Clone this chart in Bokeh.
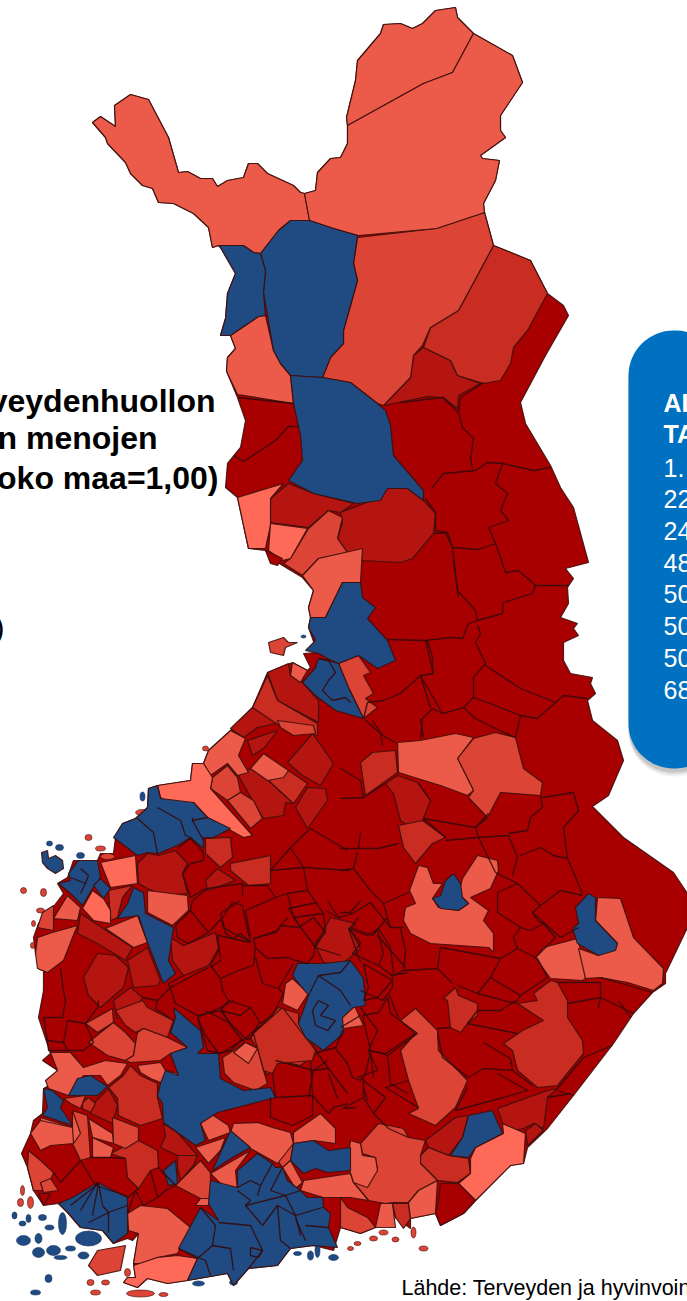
from bokeh.plotting import figure
from bokeh.models import BoxAnnotation, Range1d
from bokeh.embed import file_html
from bokeh.resources import INLINE
from bokeh.core.properties import value

# Tracing of the map: municipality outlines, by colour class of the index
COL_1 = "#a80000"; COL_2 = "#b51510"; COL_3 = "#c92c20"; COL_4 = "#dc4435"; COL_5 = "#ec5b49"; COL_6 = "#ff6a58"; COL_B = "#1f4a82"

ARM = [(218,245),(212,247),(208,227),(193,213),(173,203),(158,202),(152,188),(142,185),(130,173),(125,162),(107,143),(105,137),(92,122),(100,116),(115,126),(114,105),(130,94),(148,99),(168,137),(178,172),(187,171),(200,178),(212,178),(217,186),(227,180),(243,177),(248,163),(257,163),(267,173),(293,185),(300,192),(304,193)]
UTS = [(347,125),(346,117),(355,80),(357,60),(363,53),(380,33),(383,24),(400,23),(412,28),(422,23),(435,10),(455,7),(457,17),(473,33)]
INARI_E = [(512,55),(522,82),(500,115),(500,130),(505,137),(480,155),(482,158),(499,160),(495,180),(483,203),(484,212)]
COAST_E1 = [(493,245),(530,260),(547,293),(563,305),(568,315),(545,355),(520,402),(525,423),(550,465),(560,487),(573,507),(588,562),(565,568),(573,578),(567,587),(568,603),(560,617),(577,623),(573,628),(578,635),(563,642),(563,660),(570,673),(592,677),(590,683),(595,693),(587,700),(592,720),(617,740),(623,760),(608,795),(592,806),(623,837),(673,872),(687,893),(687,927),(665,973),(665,983),(652,992),(633,1013),(613,1043),(573,1095),(547,1128),(527,1147),(523,1163),(510,1165),(475,1200),(463,1213),(440,1225),(435,1213),(410,1218),(410,1228),(395,1217),(388,1204),(375,1227),(360,1233),(340,1227),(333,1250),(313,1245),(290,1248),(277,1265),(248,1268),(233,1285),(227,1273),(187,1280),(167,1283),(147,1278),(137,1287),(123,1282),(127,1277),(135,1277),(133,1263),(138,1233),(132,1240),(127,1238),(113,1243),(102,1230),(80,1227),(67,1212),(58,1203),(43,1205),(33,1190),(27,1167),(21,1153),(30,1133),(33,1120),(42,1113),(43,1088),(52,1083),(57,1070),(42,1060),(50,1053),(38,1017),(43,990),(43,970),(35,953),(33,937),(38,923),(50,910),(63,893),(57,883),(67,877),(73,860),(97,860),(100,853),(113,853),(115,837),(122,823),(135,818),(147,807),(148,788),(157,785),(190,780),(192,763),(203,763),(208,750),(230,730),(252,707),(267,672),(292,662),(307,670),(310,667),(303,653),(317,652),(308,627),(310,617),(308,607),(313,590),(302,577),(282,565),(270,557),(265,550),(248,548),(237,497),(225,487),(227,463),(240,447),(245,420),(237,397),(227,373),(226,370),(227,357),(235,348),(230,335),(220,335),(225,318),(227,293),(235,273),(220,247)]
COUNTRY = ARM + [(315,190),(317,172),(330,158),(340,157),(347,143)] + UTS + INARI_E + COAST_E1

REG_C1 = [
 [(265,550),(282,558),(277,565),(270,563)],
 [(440,1183),(458,1183),(475,1200),(463,1213),(440,1225),(435,1213),(438,1200)],
 [(38,1193),(50,1193),(43,1205)],
]
REG_C2 = [
 [(288,483),(270,498),(270,522),(308,527),(328,510),(340,512),(353,503),(313,493)],
 [(340,512),(377,498),(387,488),(407,488),(423,500),(435,513),(433,533),(412,558),(400,562),(363,560),(347,552),(337,538),(342,522)],
 [(423,347),(450,360),(457,375),(480,383),(458,395),(457,408),(443,397),(427,396),(383,405),(410,377),(413,355)],
 [(267,672),(288,663),(290,675),(302,682),(318,700),(318,722),(277,700)],
 [(252,707),(280,722),(257,727),(243,737),(230,728)],
 [(287,762),(312,733),(333,763),(320,785),(302,775)],
 [(238,775),(250,768),(268,780),(293,803),(285,802),(283,815),(263,818),(252,800)],
 [(295,807),(307,787),(325,788),(327,800),(307,828)],
 [(247,740),(277,730),(263,748),(252,755)],
 [(137,863),(147,853),(158,855),(175,850),(187,863),(182,873),(187,893),(163,895),(147,888),(138,883)],
 [(205,880),(217,868),(235,880),(207,890)],
 [(77,933),(80,913),(103,928),(132,947),(125,960),(97,943)],
 [(83,977),(97,953),(115,955),(128,967),(123,987),(100,1007),(88,995)],
 [(127,960),(147,947),(160,980),(157,985),(133,987)],
 [(113,1000),(130,987),(142,997),(133,1013),(117,1018)],
 [(172,960),(170,937),(183,945),(215,932),(218,948),(208,965),(183,975)],
 [(315,945),(330,917),(355,923),(350,930),(360,948),(340,965),(323,962)],
 [(385,783),(397,775),(417,782),(430,800),(422,820),(410,827),(400,820),(393,793)],
 [(93,1103),(108,1088),(117,1105),(112,1123),(90,1113)],
 [(163,1123),(177,1132),(197,1155),(177,1155),(160,1147),(165,1135)],
 [(177,1155),(197,1155),(193,1165),(180,1180),(177,1168)],
 [(497,1108),(547,1090),(557,1088),(547,1097),(543,1128),(533,1123),(523,1128),(515,1130),(502,1123)],
 [(525,1130),(535,1123),(543,1130),(527,1145)],
 [(425,1140),(455,1117),(468,1115),(462,1137),(448,1155),(428,1147)],
 [(420,1155),(428,1147),(448,1155),(468,1158),(470,1173),(457,1182),(438,1180),(420,1163)],
]
REG_C3 = [
 [(493,245),(530,260),(547,293),(527,330),(513,347),(510,363),(500,380),(483,383),(457,375),(450,360),(423,347),(430,327),(458,310)],
 [(267,675),(277,700),(317,723),(317,735),(283,728),(252,707)],
 [(268,780),(288,770),(307,783),(293,803)],
 [(205,838),(230,837),(232,857),(220,867),(205,853)],
 [(230,863),(270,855),(270,883),(248,885),(230,870)],
 [(108,890),(132,885),(122,897),(117,917),(110,920)],
 [(360,762),(372,752),(395,750),(397,772),(365,795)],
 [(398,825),(422,820),(445,837),(432,843),(415,863),(403,847)],
 [(250,1037),(278,1007),(298,1013),(298,1023),(317,1052),(300,1065),(277,1060),(267,1075),(262,1063),(257,1048)],
 [(537,1000),(533,993),(550,980),(557,982),(567,1000),(567,1017),(582,1040),(583,1053),(557,1085),(537,1087),(517,1070),(512,1050),(503,1043),(522,1030),(543,1020),(517,1003)],
 [(443,998),(455,987),(458,995),(477,1003),(477,1015),(467,1023),(460,1032),(450,1027),(447,1000)],
 [(115,1010),(142,1000),(147,1007),(173,1020),(167,1037),(143,1028),(135,1032),(125,1025)],
 [(130,1065),(140,1075),(157,1083),(157,1097),(162,1118),(140,1125),(118,1115),(117,1098),(108,1087),(123,1075)],
 [(82,1102),(88,1097),(95,1103),(90,1112),(82,1108)],
 [(110,1153),(132,1142),(138,1140),(157,1150),(158,1167),(150,1170),(138,1188),(127,1177),(125,1158)],
 [(253,1033),(282,1007),(315,1050),(312,1060),(277,1063),(272,1073),(263,1070),(257,1048)],
 [(392,1203),(408,1203),(410,1218),(403,1228),(395,1217)],
 [(420,1155),(420,1163),(437,1180),(457,1182),(470,1173),(468,1158),(448,1155),(428,1147)],
]
REG_C4 = [
 [(357,237),(436,228),(484,212),(493,245),(458,310),(430,327),(422,345),(413,355),(410,377),(383,405),(377,403),(350,382),(322,377),(330,357),(343,343),(343,330),(357,280),(353,263)],
 [(308,528),(328,510),(342,517),(337,538),(347,552),(318,558),(302,575),(283,563),(290,558)],
 [(338,663),(358,655),(370,672),(363,675),(373,693),(365,698),(377,707),(363,718),(348,687)],
 [(268,642),(283,637),(288,642),(297,642),(285,647),(283,655),(270,652)],
 [(212,777),(227,765),(237,777),(240,792),(227,800),(210,788)],
 [(227,800),(240,792),(253,800),(262,818),(250,828)],
 [(277,720),(313,725),(315,733),(293,735),(280,727)],
 [(473,738),(495,732),(515,737),(523,768),(542,782),(540,795),(500,792),(487,817),(468,797),(473,790),(457,758)],
 [(400,1020),(415,1008),(437,1030),(438,1050),(467,1080),(455,1107),(435,1125),(408,1113),(418,1108),(408,1080),(400,1050),(415,1033)],
 [(360,1143),(378,1123),(403,1128),(408,1137),(425,1140),(420,1155),(420,1163),(437,1180),(418,1190),(408,1202),(392,1202),(385,1203),(368,1200),(353,1182),(377,1170),(375,1157),(362,1153)],
 [(85,1023),(112,1008),(113,1022),(97,1032)],
 [(88,1042),(100,1032),(113,1022),(125,1032),(135,1043),(133,1055),(125,1060),(107,1055)],
 [(135,1043),(137,1032),(143,1028),(167,1037),(187,1047),(170,1053),(160,1060),(130,1062),(125,1060),(133,1055)],
 [(72,1110),(87,1115),(90,1157),(80,1160),(72,1143)],
 [(112,1117),(138,1127),(138,1140),(125,1148),(113,1143)],
 [(63,1098),(85,1095),(80,1108),(70,1103)],
 [(222,1057),(233,1050),(245,1042),(257,1048),(263,1070),(267,1083),(255,1090),(233,1082),(224,1073)],
 [(175,1185),(200,1160),(210,1172),(210,1198),(200,1198)],
 [(207,1200),(227,1207),(235,1215),(220,1220)],
 [(277,1160),(287,1147),(293,1143),(290,1160),(282,1167)],
 [(37,927),(42,912),(53,905),(53,930)],
 [(340,1197),(347,1207),(367,1217),(375,1227),(360,1233),(340,1227)],
 [(88,1265),(97,1250),(125,1245),(120,1270),(97,1275)],
 [(28,1150),(40,1160),(53,1172),(50,1180),(40,1182),(43,1190),(33,1190),(27,1167)],
 [(40,1182),(50,1178),(58,1190),(43,1192)],
]
REG_C5 = [
 [(218,245),(243,245),(253,252),(260,253),(278,230),(290,220),(309,220),(304,193)] + ARM[::-1][1:-1],
 UTS + [(452,72),(423,83)],
 [(304,193),(315,190),(317,172),(330,158),(340,157),(347,143),(347,125),(423,83),(452,72),(473,33)] + INARI_E + [(436,228),(358,235),(333,228),(309,220)],
 [(230,335),(258,316),(265,315),(273,350),(280,363),(290,375),(293,403),(237,394),(227,373),(226,370),(227,357),(235,348)],
 [(302,575),(318,558),(362,548),(360,582),(342,582),(325,617),(310,617),(308,607),(313,590)],
 [(292,662),(307,670),(300,682),(290,675)],
 [(230,730),(245,738),(238,755),(248,772),(237,775),(227,763),(210,775),(203,763),(208,750)],
 [(250,768),(263,753),(288,770),(283,777),(267,780)],
 [(105,928),(137,915),(147,942),(133,947)],
 [(147,890),(187,895),(188,910),(172,925),(147,912)],
 [(53,918),(67,895),(80,907),(77,920)],
 [(37,937),(52,932),(77,925),(72,937),(63,960),(47,972),(37,968),(35,953)],
 [(535,957),(543,947),(577,938),(585,967),(585,978),(582,980),(550,978)],
 [(397,742),(420,740),(455,733),(473,737),(457,758),(473,790),(467,795),(440,785),(398,772)],
 [(409,890),(418,865),(427,867),(433,883),(442,883),(432,898),(438,907),(458,910),(468,903),(458,893),(462,878),(477,855),(497,860),(498,870),(490,888),(470,897),(488,910),(483,920),(493,933),(493,952),(488,947),(430,943),(410,933),(403,920),(405,907),(415,903)],
 [(585,978),(578,948),(598,955),(617,943),(595,920),(597,897),(620,898),(633,937),(663,968),(662,983),(653,990),(627,982),(600,977)],
 [(50,1052),(70,1052),(83,1067),(105,1060),(127,1063),(120,1075),(107,1085),(100,1075),(83,1075),(68,1095),(48,1088),(45,1080),(57,1070)],
 [(137,1065),(160,1062),(165,1070),(178,1073),(168,1085),(150,1078),(140,1072)],
 [(40,1117),(72,1127),(72,1110),(80,1133),(73,1143),(40,1132)],
 [(88,1118),(112,1133),(113,1143),(92,1137)],
 [(92,1137),(113,1147),(110,1157),(92,1157)],
 [(233,1123),(257,1122),(272,1127),(290,1132),(293,1143),(277,1163),(250,1148),(230,1132)],
 [(293,1132),(320,1113),(335,1128),(335,1143),(313,1140),(293,1143)],
 [(200,1123),(210,1113),(228,1125),(230,1132),(208,1140)],
 [(195,1147),(225,1137),(220,1150),(208,1163)],
 [(210,1173),(250,1150),(235,1170),(237,1190),(222,1185)],
 [(282,1167),(290,1160),(302,1182),(295,1188)],
 [(303,1180),(350,1173),(353,1182),(368,1200),(350,1197),(340,1197),(323,1197),(300,1190)],
 [(315,1157),(330,1155),(322,1168),(312,1163)],
 [(285,983),(292,978),(308,993),(297,1010),(282,1003)],
 [(332,1020),(353,1003),(363,1025),(343,1028)],
 [(233,1052),(245,1042),(257,1048),(248,1063)],
 [(350,1140),(360,1143),(362,1155),(375,1157),(377,1170),(367,1187),(353,1182),(347,1163)],
 [(408,1202),(418,1190),(437,1180),(435,1213),(410,1218)],
 [(380,1203),(392,1203),(395,1227),(375,1227)],
 [(30,1133),(40,1120),(72,1127),(73,1143),(50,1145),(40,1150)],
 [(127,1213),(140,1205),(167,1208),(190,1227),(177,1253),(157,1257),(140,1263),(133,1263),(138,1233),(128,1230)],
 [(200,1198),(210,1198),(208,1205),(195,1205)],
]
REG_C6 = [
 [(157,785),(190,780),(192,763),(203,763),(212,777),(210,788),(252,835),(243,837),(207,817),(193,802),(177,807),(160,797)],
 [(237,497),(283,483),(270,498),(270,525),(265,548),(248,548)],
 [(270,523),(307,528),(290,558),(282,560),(268,550)],
 [(82,908),(92,890),(103,898),(110,910),(110,923),(93,920)],
 [(502,1123),(525,1133),(523,1163),(510,1165),(475,1200),(458,1183),(470,1173),(470,1158),(475,1147),(503,1133)],
 [(133,1265),(157,1257),(177,1255),(197,1258),(187,1280),(167,1283),(147,1278),(137,1287),(123,1282),(127,1277),(135,1277)],
 [(100,862),(135,855),(137,883),(110,887)],
]
REG_B = [
 [(278,230),(290,220),(309,220),(333,228),(357,235),(353,263),(357,280),(343,330),(343,343),(330,357),(322,377),(290,375),(280,363),(273,350),(263,292),(265,270),(260,253)],
 [(218,245),(243,245),(253,252),(260,253),(265,270),(263,292),(265,315),(258,316),(230,335),(220,335),(225,318),(227,293),(235,273),(220,247)],
 [(290,375),(322,377),(350,382),(377,403),(385,410),(390,425),(393,455),(423,490),(423,500),(407,488),(387,488),(380,500),(357,503),(313,493),(288,480),(302,460),(300,435),(293,403)],
 [(342,582),(360,582),(362,597),(375,607),(367,618),(387,640),(395,660),(377,668),(358,655),(338,663),(327,658),(318,653),(305,650),(315,640),(308,627),(310,617),(325,617)],
 [(318,658),(338,663),(348,687),(363,718),(335,710),(315,695),(302,682),(315,667)],
 [(148,788),(157,785),(160,798),(193,802),(207,817),(230,828),(213,837),(203,837),(203,848),(190,837),(177,845),(158,853),(147,852),(137,855),(113,837),(122,823),(135,818),(147,807)],
 [(68,873),(78,860),(97,860),(100,877),(92,888),(82,905),(70,893),(58,883),(70,880)],
 [(93,885),(100,878),(110,888),(103,898)],
 [(41,852),(47,850),(48,858),(55,855),(62,860),(63,868),(55,873),(47,868),(42,862)],
 [(133,887),(143,892),(145,913),(173,927),(168,960),(175,973),(163,983),(147,942),(138,915),(117,918),(127,903)],
 [(453,873),(460,883),(462,897),(468,903),(458,910),(440,908),(432,898),(440,895),(445,880)],
 [(588,893),(595,897),(595,920),(617,943),(615,950),(598,955),(577,943),(572,928),(578,923),(575,907)],
 [(292,975),(297,963),(323,963),(350,960),(363,978),(365,1005),(353,1007),(342,1017),(343,1033),(323,1050),(305,1037),(298,1023),(308,995)],
 [(173,1007),(200,1030),(203,1047),(197,1053),(218,1053),(220,1078),(243,1090),(270,1087),(275,1097),(217,1112),(200,1123),(205,1140),(195,1145),(177,1132),(163,1122),(162,1103),(157,1095),(160,1083),(165,1070),(178,1075),(170,1053),(187,1047),(170,1032),(175,1017)],
 [(68,1095),(77,1078),(90,1075),(107,1086),(97,1095)],
 [(43,1088),(52,1090),(63,1100),(60,1107),(72,1125),(42,1115),(47,1107)],
 [(212,1170),(230,1130),(250,1147),(232,1157)],
 [(163,1170),(175,1160),(177,1183),(168,1185)],
 [(293,1143),(313,1140),(328,1150),(350,1147),(350,1170),(327,1172),(315,1168),(303,1173),(290,1160)],
 [(468,1115),(492,1110),(502,1133),(475,1147),(468,1157),(450,1155),(462,1137)],
 [(178,1248),(200,1207),(218,1220),(208,1203),(210,1180),(237,1187),(237,1170),(257,1153),(272,1163),(275,1167),(282,1167),(287,1180),(300,1190),(307,1197),(322,1197),(323,1207),(330,1213),(328,1227),(337,1247),(313,1245),(290,1248),(277,1265),(248,1268),(233,1285),(227,1273),(187,1280),(197,1258)],
 [(58,1203),(72,1197),(97,1182),(127,1197),(127,1233),(113,1243),(102,1230),(80,1227),(67,1212)],
]
# Islands: centre x, y and size
ISLE_BLUE_X = [14,22,28,42,49,62,23,38,38,53,70,60,83,88,48,35,198,233,333,310,317,297,49,59,80,142,303]
ISLE_BLUE_Y = [1215,1223,1218,1217,1227,1223,1240,1238,1252,1250,1248,1257,1255,1238,1278,1292,1283,1282,1257,1255,1250,1253,843,847,855,796,636]
ISLE_BLUE_W = [5,7,5,8,9,8,14,7,12,14,10,13,11,26,7,10,12,8,10,6,5,8,6,8,8,5,5]
ISLE_BLUE_H = [7,5,8,6,5,22,10,10,10,10,5,4,7,15,8,5,5,5,6,9,14,4,5,6,6,9,3]
ISLE_RED_X = [22,20,30,90,105,95,163,140,127,80,413,383,373,395,423,357,350,88,100,107,142,23,43,40,33,32,42,205]
ISLE_RED_Y = [1190,1202,1202,1282,1282,1292,1294,1293,1272,1212,1232,1232,1238,1239,1248,1243,1248,837,848,856,812,890,892,910,923,945,967,748]
ISLE_RED_W = [4,6,6,7,8,10,9,28,6,10,5,9,8,7,9,7,6,7,10,14,14,6,6,8,4,4,8,6]
ISLE_RED_H = [10,8,12,6,5,5,4,7,8,7,11,5,5,5,5,4,4,6,5,6,6,6,8,5,6,6,6,5]

BORDER_LINES = [
 # north-east
 [(458,412),(462,427),(473,438),(470,458),(472,468)],[(400,402),(442,397),(458,412),(460,397),(483,382)],
 [(432,487),(443,473),(475,470),(487,462),(502,463),(533,470),(550,467)],
 [(502,463),(495,483),(507,493),(500,510),(508,520),(488,527),(495,543),(505,572),(518,570),(535,585),(568,585)],
 [(425,498),(435,512),(435,530),(445,532),(452,547),(478,549),(495,543)],
 [(452,547),(457,590),(475,610),(477,620),(502,613),(503,602),(532,593),(535,585)],
 [(477,620),(468,623),(462,638),(450,637),(425,640),(387,639)],
 [(477,625),(480,633),(475,642),(485,663),(473,677),(473,697),(463,707),(442,713),(420,675),(433,673),(425,640)],
 [(485,665),(520,688),(555,702),(537,718),(520,715),(487,702),(473,697)],
 [(555,702),(563,695),(587,698)],[(520,715),(515,737)],[(463,707),(475,718),(495,728),(515,737)],
 [(442,713),(432,708),(420,720),(423,737)],[(420,675),(400,693),(383,700),(367,702)],
 [(433,533),(447,532),(452,547)],[(453,560),(458,597)],
 [(432,657),(432,673)],[(427,640),(432,657)],[(367,702),(363,718),(380,733),(382,745)],
 [(420,675),(430,707)],[(340,768),(360,780),(363,797),(340,798)],
 [(372,720),(382,735),(395,742)],[(420,738),(422,720)],
 [(237,397),(293,403)],[(233,455),(243,461),(263,448),(275,440),(288,426),(298,426)],
 # central east
 [(340,848),(358,848),(378,848),(398,843)],[(360,832),(358,848)],[(357,852),(353,868),(370,890),(383,903),(408,892)],
 [(340,870),(353,868)],[(360,900),(350,912),(340,912)],[(383,903),(387,917),(372,935),(350,927),(358,917)],
 [(387,917),(390,927),(403,927)],[(377,930),(383,953),(378,965),(352,953),(360,943),(348,927)],
 [(378,965),(392,975),(403,970),(405,950),(400,928)],[(403,970),(437,968),(440,947)],[(437,968),(452,983)],
 [(392,975),(392,987),(388,993),(398,1017)],[(360,990),(382,1000),(388,993)],
 [(440,947),(500,958),(490,977),(477,993),(457,985)],[(500,958),(517,948),(537,958),(547,977),(520,995),(490,977)],
 [(477,993),(515,1003),(520,995)],[(517,948),(513,937),(520,927),(530,930),(543,923),(555,937),(535,957)],
 [(495,872),(517,883),(497,892),(497,912),(520,927)],[(517,883),(540,905),(532,912),(537,920),(543,923)],
 [(540,905),(560,890),(582,895)],[(532,912),(560,937)],[(578,927),(560,937)],
 [(512,875),(517,857),(508,835),(478,837)],[(520,855),(540,847),(553,855),(567,858),(582,893)],
 [(567,858),(563,827),(578,810),(573,792),(542,797)],[(508,833),(527,830),(530,817),(542,807),(540,795)],
 [(475,827),(488,813)],[(475,827),(478,837),(445,840)],[(423,818),(445,837)],[(418,783),(430,800)],[(475,827),(423,818)],
 [(478,837),(495,872)],[(487,817),(475,827)],[(363,797),(385,783)],
 [(557,982),(600,982),(600,997),(567,1003)],[(600,977),(652,992)],[(600,997),(633,1013)],[(598,1007),(600,997)],
 # central middle
 [(190,910),(175,925),(177,937),(188,943),(208,932),(190,910)],
 [(222,920),(225,933),(233,938),(240,933),(250,942),(245,920),(242,905),(232,902),(222,917),(208,932)],
 [(253,938),(277,930),(280,925),(298,927),(313,917),(325,932),(315,942),(313,955),(307,963),(295,960),(288,957),(267,958),(255,947),(253,938)],
 [(250,942),(218,935)],[(253,965),(255,947)],[(218,950),(210,965),(220,978),(238,970),(253,965)],
 [(255,957),(262,983),(278,988),(293,963)],
 [(220,978),(222,990),(228,1000),(220,1010),(197,1015),(175,1003),(168,983),(183,975)],
 [(228,1000),(250,1007),(260,1023),(272,1015),(283,993),(278,988)],[(250,1007),(240,1015),(220,1010)],
 [(260,1025),(245,1038),(230,1023),(220,1010)],[(205,1010),(230,1023)],[(197,1017),(205,1035),(218,1053),(230,1050),(242,1038)],
 [(317,1052),(335,1047)],[(327,1060),(313,1070),(275,1060)],[(313,1070),(308,1097)],
 [(342,1030),(335,1048),(347,1063),(352,1077),(360,1080),(365,1073),(370,1052)],
 [(362,1015),(378,1012),(387,997),(390,1013),(417,1033),(387,1055),(370,1050),(362,1015)],
 [(363,963),(368,987),(363,1000),(377,997),(392,980),(363,963)],
 [(360,962),(348,928),(367,935),(378,928),(390,947),(393,973)],[(390,975),(408,972)],
 [(352,913),(370,902),(390,927)],[(377,935),(405,967)],[(317,902),(288,908),(298,923)],[(287,917),(275,932),(253,938)],
 [(327,900),(338,917),(352,913)],[(387,1055),(390,1083),(407,1093)],[(363,1077),(363,1087),(367,1100)],
 [(328,1073),(337,1098)],[(373,1077),(370,1052)],[(408,1137),(388,1128),(373,1113),(363,1097),(363,1080)],
 # west
 [(177,848),(190,838),(203,852),(203,860),(190,863)],[(190,863),(182,873),(190,897),(205,888)],
 [(192,900),(207,888),(242,883),(242,895)],[(190,910),(192,900)],
 [(240,900),(220,913),(223,927),(233,933),(248,940)],[(242,885),(267,885),(275,897),(245,910),(250,937)],
 [(270,870),(290,847),(303,867),(270,870)],[(303,867),(307,890),(287,893),(275,897)],
 [(307,890),(323,913),(293,917),(287,893)],[(303,867),(350,870)],[(290,847),(310,828),(347,850)],
 [(340,918),(325,910)],[(325,930),(315,947),(293,917)],[(323,913),(325,930)],[(315,947),(340,955)],
 [(210,967),(220,960),(217,933)],[(170,987),(208,967)],
 [(43,1017),(62,1017),(65,1000),(63,990),(60,968)],[(67,1020),(63,1042),(67,1050),(83,1050),(93,1042),(85,1023),(67,1020)],
 [(98,1000),(97,1007),(85,1023)],[(47,1040),(48,1050),(67,1050)],[(43,1017),(47,1040),(63,1042)],
 [(197,1017),(207,1050),(220,1053),(242,1040),(230,1025),(220,1007),(197,1017)],[(220,1007),(233,1000)],[(258,1023),(250,1038),(242,1040)],
 [(157,1000),(155,1008),(173,1020)],[(172,985),(157,1000)],[(142,997),(157,1000)],
 [(272,1073),(275,1097),(312,1095),(310,1060)],[(270,1097),(270,1117),(292,1125),(312,1115),(312,1095)],
 [(312,1070),(328,1068),(347,1093)],[(312,1095),(328,1113),(333,1107),(347,1103)],[(328,1068),(315,1050)],
 [(360,1007),(377,1030),(368,1050),(385,1053),(415,1033)],[(340,1027),(360,1015)],[(357,1077),(377,1070),(368,1050)],
 [(363,1080),(385,1097),(373,1113)],[(385,1087),(408,1080)],[(385,1087),(418,1107)],[(355,1107),(342,1108),(363,1097)],
 [(437,1032),(442,1057),(468,1077),(483,1068),(512,1070),(532,1085)],[(450,1027),(437,1028)],
 [(477,1010),(467,1023),(517,1033)],[(477,1010),(500,1010),(515,1000)],[(483,1042),(510,1058),(512,1070)],
 [(497,1073),(527,1090)],[(467,1087),(455,1110),(503,1097),(527,1090)],
 [(557,1088),(583,1057),(612,1045)],[(618,1000),(630,1017)],[(557,1090),(573,1095)],[(547,1097),(570,1093)],
 # blue north-west group
 [(137,818),(153,832),(157,853)],[(157,807),(180,820),(185,835),(190,837)],[(192,817),(192,820),(203,840)],[(192,820),(207,817)],
 [(70,877),(85,883),(80,893)],[(80,868),(88,875),(85,883)],
 # south-west inner
 [(97,1182),(80,1210)],[(98,1183),(92,1215)],[(98,1183),(102,1205)],[(98,1183),(70,1205)],[(102,1205),(108,1212),(127,1205)],[(88,1222),(108,1212),(108,1232)],
 [(90,1157),(110,1157),(125,1158)],[(80,1160),(60,1182),(53,1172)],[(80,1160),(95,1185)],[(95,1185),(125,1195),(127,1197),(138,1188)],
 [(135,1190),(143,1205),(157,1197),(150,1170)],[(127,1213),(135,1190)],[(158,1167),(175,1185),(165,1190),(157,1197)],
 [(178,1248),(205,1260),(210,1275)],[(200,1207),(215,1225),(212,1245),(230,1248),(233,1270)],[(212,1245),(197,1258)],[(218,1222),(250,1225),(262,1250),(248,1268)],
 [(237,1190),(250,1200),(245,1205),(262,1225)],[(245,1205),(285,1195),(300,1190)],[(262,1225),(277,1205),(295,1215),(300,1235)],[(277,1205),(280,1240),(290,1248)],
 [(285,1195),(295,1215),(322,1207)],[(272,1163),(260,1185),(257,1195)],[(282,1167),(270,1190),(285,1195)],[(237,1187),(250,1180),(260,1185)],
 [(305,1225),(328,1227)],[(295,1218),(305,1240)],[(250,1247),(262,1250),(258,1257),(250,1255),(250,1247)],
 [(318,975),(340,990),(350,1005)],[(350,960),(340,972),(318,975)],[(308,995),(318,975)],
 [(318,1000),(328,1005),(320,1015),(335,1020),(327,1030),(315,1025),(312,1010),(318,1000)],
 [(318,658),(328,660),(335,672),(328,680),(322,690),(332,700),(345,697),(350,702)],
]
FILLED_CLASSES = [(COL_2, REG_C2), (COL_3, REG_C3), (COL_4, REG_C4), (COL_5, REG_C5), (COL_6, REG_C6), (COL_B, REG_B), (COL_1, REG_C1)]

LEFT_LINES = ["veydenhuollon", "n menojen", "oko maa=1,00)"]
LEFT_END_X = [215, 157, 218]
LEFT_Y = [400, 437, 477]
PANEL_BOLD = ["AL", "TA"]
PANEL_BOLD_Y = [402, 433]
PANEL_ROWS = ["1.", "22", "24", "48", "50", "50", "50", "68"]
PANEL_ROWS_Y = [467, 498, 530, 562, 593, 625, 657, 689]
SOURCE = "Lähde: Terveyden ja hyvinvoin"

p = figure(width=687, height=1301, x_range=Range1d(0, 687), y_range=Range1d(1301, 0),
           toolbar_location=None, output_backend="svg", min_border=0, outline_line_color=None,
           background_fill_color="white", border_fill_color="white")
p.axis.visible = False
p.grid.visible = False

EDGE = "#3c0f0c"
def draw(polys, fill, lw=1.2, edge=EDGE):
    p.patches([[a for a, _ in q] for q in polys], [[b for _, b in q] for q in polys],
              fill_color=fill, line_color=edge, line_width=lw, line_alpha=0.9)

draw([COUNTRY], COL_1)
p.ellipse(ISLE_BLUE_X, ISLE_BLUE_Y, width=ISLE_BLUE_W, height=ISLE_BLUE_H, fill_color=COL_B, line_color="#16335c", line_width=0.6)
p.ellipse(ISLE_RED_X, ISLE_RED_Y, width=ISLE_RED_W, height=ISLE_RED_H, fill_color=COL_4, line_color=EDGE, line_width=0.6)
for fill, polys in FILLED_CLASSES:
    draw(polys, fill)
p.multi_line([[a for a, _ in q] for q in BORDER_LINES], [[b for _, b in q] for q in BORDER_LINES],
             line_color="#35090a", line_width=1.3, line_alpha=0.9)

# Information panel
for off, alpha in [(8, 0.08), (6, 0.12), (4, 0.18)]:
    p.add_layout(BoxAnnotation(left=628, right=720, top=330 + off, bottom=768 + off, border_radius=45,
                               fill_color="#555555", fill_alpha=alpha, line_color=None))
p.add_layout(BoxAnnotation(left=628, right=720, top=330, bottom=768, border_radius=45,
                           fill_color="#0070c0", fill_alpha=1, line_color=None))

p.text(x=LEFT_END_X, y=LEFT_Y, text=LEFT_LINES, text_font=value("Liberation Sans"), text_font_style="bold",
       text_font_size="32px", text_align="right", text_baseline="middle", text_color="#000000", level="overlay")
p.text(x=[4], y=[627], text=[")"], text_font=value("Liberation Sans"), text_font_size="30px",
       text_align="right", text_baseline="middle", text_color="#000000", level="overlay")
p.text(x=[663, 663], y=PANEL_BOLD_Y, text=PANEL_BOLD, text_font=value("Liberation Sans"), text_font_style="bold",
       text_font_size="25px", text_baseline="middle", text_color="white", level="overlay")
p.text(x=[663] * 8, y=PANEL_ROWS_Y, text=PANEL_ROWS, text_font=value("Liberation Sans"),
       text_font_size="25px", text_baseline="middle", text_color="white", level="overlay")
p.text(x=[401], y=[1287], text=[SOURCE], text_font=value("Liberation Sans"), text_font_size="21.5px",
       text_baseline="middle", text_color="#000000", level="overlay")

open("out.html", "w").write(file_html(p, INLINE))
